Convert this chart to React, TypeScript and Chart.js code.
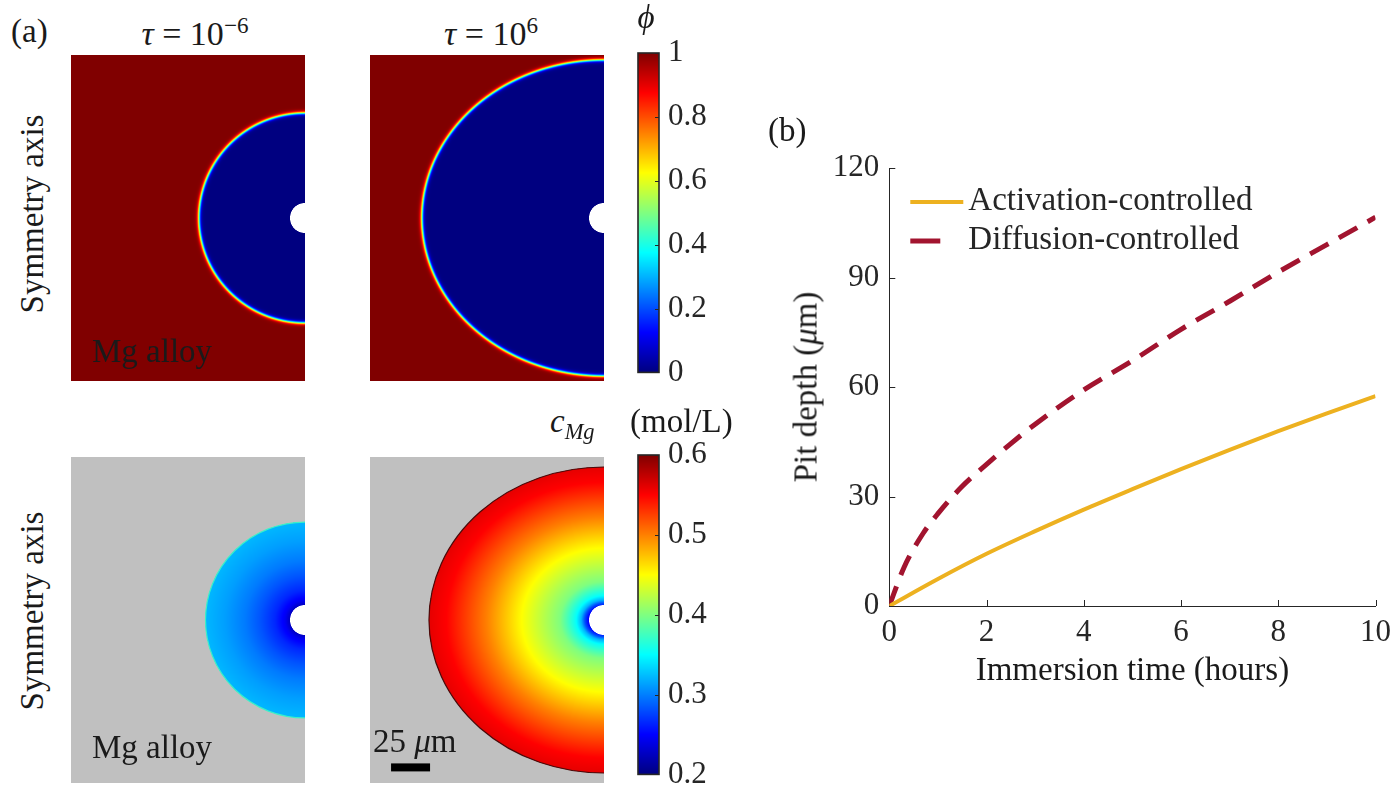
import React, { useEffect, useRef } from 'react';
import { Chart, registerables } from 'chart.js';

Chart.register(...registerables);

// ---------------- Panel (b) data ----------------
const seriesLabels = ['Activation-controlled', 'Diffusion-controlled'];
const timeActivation = [0, 1, 2, 3, 4, 5, 6, 7, 8, 9, 10];
const depthActivation = [0, 7.4, 14.3, 20.5, 26.4, 32.0, 37.5, 42.8, 47.9, 52.8, 57.5];
const timeDiffusion = [0, 0.3, 0.7, 1, 1.5, 2, 2.5, 3, 4, 5, 6, 7, 8, 9, 10];
const depthDiffusion = [0, 10.5, 20, 25.3, 32.8, 38.8, 44.5, 49.8, 59.2, 67.2, 75.8, 83.5, 91.5, 99, 106.5];
const timeTicks = [0, 2, 4, 6, 8, 10];
const depthTicks = [0, 30, 60, 90, 120];

// ---------------- Panel (a) data (micrometres) ----------------
const domainR = [-150, 0];
const domainZ = [-104.5, 104.5];
const holeRadius = 9.6;
const pitAxesPhiEarly = [68, 67.3];
const pitAxesPhiLate = [116.7, 101.3];
const pitAxesConcEarly = [63.8, 62.8];
const pitAxesConcLate = [112.2, 98.1];
const interfaceWidth = 1.3;
const phiTicks = [0, 0.2, 0.4, 0.6, 0.8, 1];
const concTicks = [0.2, 0.3, 0.4, 0.5, 0.6];
const concEarlyS = [0.15, 0.2, 0.3, 0.45, 0.6, 0.8, 1.0];
const concEarlyC = [0.225, 0.245, 0.265, 0.283, 0.298, 0.312, 0.322];
const concLateS = [0.086, 0.11, 0.13, 0.16, 0.25, 0.36, 0.47, 0.67, 0.9, 1.0];
const concLateC = [0.245, 0.28, 0.32, 0.352, 0.4, 0.425, 0.45, 0.5, 0.55, 0.56];
const scaleBarLength = 25;

const FONT = '"Liberation Serif", "Times New Roman", serif';
const AXIS_COLOR = '#262626';
const TEXT_COLOR = '#1a1a1a';

type RGB = [number, number, number];
const WHITE: RGB = [255, 255, 255];
const GRAY: RGB = [192, 192, 192];

function clamp01(v: number) {
  return v < 0 ? 0 : v > 1 ? 1 : v;
}
function jet(v: number): RGB {
  v = clamp01(v);
  return [
    255 * clamp01(1.5 - Math.abs(4 * v - 3)),
    255 * clamp01(1.5 - Math.abs(4 * v - 2)),
    255 * clamp01(1.5 - Math.abs(4 * v - 1)),
  ];
}
function interp(xs: number[], ys: number[], v: number) {
  if (v <= xs[0]) return ys[0];
  for (let i = 1; i < xs.length; i++) {
    if (v <= xs[i]) {
      const t = (v - xs[i - 1]) / (xs[i] - xs[i - 1]);
      return ys[i - 1] + t * (ys[i] - ys[i - 1]);
    }
  }
  return ys[ys.length - 1];
}

type Shader = (r: number, z: number) => RGB;

function phiShader(axes: number[]): Shader {
  const [a, b] = axes;
  return (r, z) => {
    if (Math.hypot(r, z) < holeRadius) return WHITE;
    const s = Math.sqrt((r / a) ** 2 + (z / b) ** 2);
    const g = Math.sqrt((r / (a * a)) ** 2 + (z / (b * b)) ** 2) / Math.max(s, 1e-9);
    const d = (s - 1) / g;
    const phi = 0.5 * (1 + Math.tanh(d / interfaceWidth));
    return jet(phi);
  };
}
function concShader(axes: number[], sArr: number[], cArr: number[]): Shader {
  const [a, b] = axes;
  const lo = concTicks[0];
  const hi = concTicks[concTicks.length - 1];
  return (r, z) => {
    if (Math.hypot(r, z) < holeRadius) return WHITE;
    const s = Math.sqrt((r / a) ** 2 + (z / b) ** 2);
    if (s > 1) return GRAY;
    return jet((interp(sArr, cArr, s) - lo) / (hi - lo));
  };
}

function fieldPlugin(shader: Shader, extras?: { outline?: string; axes?: number[]; scaleBar?: boolean }) {
  return {
    id: 'fieldImage',
    beforeDatasetsDraw(chart: any) {
      const { ctx, chartArea: ca, scales } = chart;
      const xs = scales.x;
      const ys = scales.y;
      const w = Math.round(ca.right - ca.left);
      const h = Math.round(ca.bottom - ca.top);
      const img = ctx.createImageData(w, h);
      const offs = [0.25, 0.75];
      for (let j = 0; j < h; j++) {
        const zv = offs.map((o) => ys.getValueForPixel(ca.top + j + o));
        for (let i = 0; i < w; i++) {
          let R = 0, G = 0, B = 0;
          for (const ox of offs) {
            const rv = xs.getValueForPixel(ca.left + i + ox);
            for (const zz of zv) {
              const c = shader(rv, zz);
              R += c[0]; G += c[1]; B += c[2];
            }
          }
          const k = (j * w + i) * 4;
          img.data[k] = R / 4;
          img.data[k + 1] = G / 4;
          img.data[k + 2] = B / 4;
          img.data[k + 3] = 255;
        }
      }
      ctx.putImageData(img, ca.left, ca.top);
      if (extras && extras.outline && extras.axes) {
        const cx = xs.getPixelForValue(0);
        const cy = ys.getPixelForValue(0);
        const rx = cx - xs.getPixelForValue(-extras.axes[0]);
        const ry = ys.getPixelForValue(-extras.axes[1]) - cy;
        ctx.save();
        ctx.beginPath();
        ctx.rect(ca.left, ca.top, w, h);
        ctx.clip();
        ctx.strokeStyle = extras.outline;
        ctx.lineWidth = 1.2;
        ctx.beginPath();
        ctx.ellipse(cx, cy, rx, ry, 0, Math.PI / 2, (3 * Math.PI) / 2);
        ctx.stroke();
        ctx.restore();
      }
      if (extras && extras.scaleBar) {
        const start = -136.5;
        const zc = -94.5;
        const x0 = xs.getPixelForValue(start);
        const x1 = xs.getPixelForValue(start + scaleBarLength);
        const yc = ys.getPixelForValue(zc);
        ctx.fillStyle = '#000';
        ctx.fillRect(x0, yc - 4, x1 - x0, 8);
      }
    },
  };
}

function fieldConfig(plugin: any): any {
  return {
    type: 'scatter',
    data: { datasets: [] },
    options: {
      responsive: false,
      animation: false,
      devicePixelRatio: 1,
      layout: { padding: 0 },
      plugins: { legend: { display: false }, tooltip: { enabled: false } },
      scales: {
        x: { type: 'linear', display: false, min: domainR[0], max: domainR[1] },
        y: { type: 'linear', display: false, min: domainZ[0], max: domainZ[1] },
      },
    },
    plugins: [plugin],
  };
}

function colorbarConfig(ticks: number[], padTop: number, padBottom: number): any {
  const min = ticks[0];
  const max = ticks[ticks.length - 1];
  return {
    type: 'scatter',
    data: { datasets: [] },
    options: {
      responsive: false,
      animation: false,
      devicePixelRatio: 1,
      layout: { padding: { left: 13, top: padTop, right: 0, bottom: padBottom } },
      plugins: { legend: { display: false }, tooltip: { enabled: false } },
      scales: {
        x: { type: 'linear', display: false, min: 0, max: 1 },
        y: {
          type: 'linear',
          position: 'right',
          min,
          max,
          afterBuildTicks: (s: any) => {
            s.ticks = ticks.map((v) => ({ value: v }));
          },
          afterFit: (s: any) => {
            s.width = 96;
          },
          grid: { display: false, drawTicks: false },
          border: { display: false },
          ticks: {
            padding: 9,
            color: AXIS_COLOR,
            font: { family: FONT, size: 31 },
            callback: (v: any) => String(+Number(v).toFixed(2)),
          },
        },
      },
    },
    plugins: [
      {
        id: 'colorbar',
        beforeDatasetsDraw(chart: any) {
          const { ctx, chartArea: ca, scales } = chart;
          const y = scales.y;
          for (let py = Math.floor(ca.top); py < Math.ceil(ca.bottom); py++) {
            const v = y.getValueForPixel(py + 0.5);
            const c = jet((v - min) / (max - min));
            ctx.fillStyle = `rgb(${c[0]},${c[1]},${c[2]})`;
            ctx.fillRect(ca.left, py, ca.right - ca.left, 1);
          }
          ctx.save();
          ctx.strokeStyle = AXIS_COLOR;
          ctx.lineWidth = 1;
          y.ticks.forEach((t: any) => {
            const py = Math.round(y.getPixelForValue(t.value)) + 0.5;
            ctx.beginPath();
            ctx.moveTo(ca.right, py);
            ctx.lineTo(ca.right - 4, py);
            ctx.stroke();
          });
          ctx.lineWidth = 1.6;
          ctx.strokeRect(ca.left, ca.top, ca.right - ca.left, ca.bottom - ca.top);
          ctx.restore();
        },
      },
    ],
  };
}

const inwardTicks = {
  id: 'inwardTicks',
  beforeDatasetsDraw(chart: any) {
    const { ctx, chartArea: ca, scales } = chart;
    ctx.save();
    ctx.strokeStyle = AXIS_COLOR;
    ctx.lineWidth = 1;
    scales.x.ticks.forEach((t: any) => {
      const px = Math.round(scales.x.getPixelForValue(t.value)) + 0.5;
      ctx.beginPath();
      ctx.moveTo(px, ca.bottom);
      ctx.lineTo(px, ca.bottom - 6);
      ctx.stroke();
    });
    scales.y.ticks.forEach((t: any) => {
      const py = Math.round(scales.y.getPixelForValue(t.value)) + 0.5;
      ctx.beginPath();
      ctx.moveTo(ca.left, py);
      ctx.lineTo(ca.left + 6, py);
      ctx.stroke();
    });
    ctx.restore();
  },
};

const matlabLegend = {
  id: 'matlabLegend',
  afterDatasetsDraw(chart: any) {
    const { ctx, chartArea: ca } = chart;
    const x0 = ca.left + 21;
    chart.data.datasets.forEach((ds: any, i: number) => {
      const yLine = ca.top + 34 + i * 39;
      ctx.save();
      ctx.strokeStyle = ds.borderColor;
      ctx.lineWidth = ds.borderWidth;
      ctx.setLineDash(ds.borderDash ? [30, 23] : []);
      ctx.beginPath();
      ctx.moveTo(x0, yLine);
      ctx.lineTo(x0 + 53, yLine);
      ctx.stroke();
      ctx.restore();
      ctx.save();
      ctx.font = `33px ${FONT}`;
      ctx.fillStyle = AXIS_COLOR;
      ctx.textBaseline = 'alphabetic';
      ctx.textAlign = 'left';
      ctx.fillText(ds.label, x0 + 58, yLine + 8);
      ctx.restore();
    });
  },
};

function lineConfig(): any {
  return {
    type: 'line',
    data: {
      datasets: [
        {
          label: seriesLabels[0],
          data: timeActivation.map((t, i) => ({ x: t, y: depthActivation[i] })),
          borderColor: '#EDB120',
          borderWidth: 4,
          pointRadius: 0,
          fill: false,
          cubicInterpolationMode: 'monotone',
        },
        {
          label: seriesLabels[1],
          data: timeDiffusion.map((t, i) => ({ x: t, y: depthDiffusion[i] })),
          borderColor: '#A2142F',
          borderWidth: 5,
          borderDash: [21, 12],
          pointRadius: 0,
          fill: false,
          cubicInterpolationMode: 'monotone',
        },
      ],
    },
    options: {
      responsive: false,
      animation: false,
      devicePixelRatio: 1,
      layout: { padding: { left: 0, top: 68, right: 21, bottom: 0 } },
      plugins: { legend: { display: false }, tooltip: { enabled: false } },
      scales: {
        x: {
          type: 'linear',
          min: 0,
          max: 10,
          afterBuildTicks: (s: any) => {
            s.ticks = timeTicks.map((v) => ({ value: v }));
          },
          afterFit: (s: any) => {
            s.height = 188;
          },
          grid: { display: false, drawTicks: false },
          border: { display: true, color: AXIS_COLOR, width: 1 },
          ticks: { color: AXIS_COLOR, font: { family: FONT, size: 31 }, padding: 8, maxRotation: 0, autoSkip: false },
          title: {
            display: true,
            text: 'Immersion time (hours)',
            color: TEXT_COLOR,
            font: { family: FONT, size: 33 },
            padding: { top: 0, bottom: 103 },
          },
        },
        y: {
          type: 'linear',
          min: 0,
          max: 120,
          afterBuildTicks: (s: any) => {
            s.ticks = depthTicks.map((v) => ({ value: v }));
          },
          afterFit: (s: any) => {
            s.width = 149.3;
          },
          grid: { display: false, drawTicks: false },
          border: { display: true, color: AXIS_COLOR, width: 1 },
          ticks: { color: AXIS_COLOR, font: { family: FONT, size: 31 }, padding: 10, autoSkip: false },
        },
      },
    },
    plugins: [inwardTicks, matlabLegend],
  };
}

function ChartBox(props: { left: number; top: number; width: number; height: number; make: () => any }) {
  const ref = useRef<HTMLCanvasElement>(null);
  useEffect(() => {
    const chart = new Chart(ref.current as HTMLCanvasElement, props.make());
    return () => chart.destroy();
  }, []);
  return (
    <canvas
      ref={ref}
      width={props.width}
      height={props.height}
      style={{ position: 'absolute', left: props.left, top: props.top, width: props.width, height: props.height }}
    />
  );
}

function Label(props: { x: number; baseline: number; size?: number; center?: boolean; children: any }) {
  const size = props.size || 33;
  return (
    <div
      style={{
        position: 'absolute',
        left: props.x,
        top: props.baseline - 0.8375 * size,
        fontSize: size,
        lineHeight: `${size}px`,
        whiteSpace: 'nowrap',
        color: TEXT_COLOR,
        transform: props.center ? 'translateX(-50%)' : undefined,
      }}
    >
      {props.children}
    </div>
  );
}

function VLabel(props: { cx: number; cy: number; size?: number; children: any }) {
  const size = props.size || 33;
  return (
    <div
      style={{
        position: 'absolute',
        left: props.cx,
        top: props.cy,
        fontSize: size,
        lineHeight: `${size}px`,
        whiteSpace: 'nowrap',
        color: TEXT_COLOR,
        transform: 'translate(-50%, -50%) rotate(-90deg)',
      }}
    >
      {props.children}
    </div>
  );
}

const sup: React.CSSProperties = { fontSize: '0.68em', position: 'relative', top: '-0.5em' };
const sub: React.CSSProperties = { fontSize: '0.68em', position: 'relative', top: '0.28em' };

export default function App() {
  return (
    <div
      style={{
        position: 'absolute',
        left: 0,
        top: 0,
        width: 1399,
        height: 794,
        overflow: 'hidden',
        background: '#ffffff',
        fontFamily: FONT,
      }}
    >
      <ChartBox left={71} top={55} width={234} height={326} make={() => fieldConfig(fieldPlugin(phiShader(pitAxesPhiEarly)))} />
      <ChartBox left={370} top={55} width={234} height={326} make={() => fieldConfig(fieldPlugin(phiShader(pitAxesPhiLate)))} />
      <ChartBox
        left={71}
        top={457}
        width={234}
        height={326}
        make={() =>
          fieldConfig(
            fieldPlugin(concShader(pitAxesConcEarly, concEarlyS, concEarlyC), { outline: '#3cf0c8', axes: pitAxesConcEarly })
          )
        }
      />
      <ChartBox
        left={370}
        top={457}
        width={234}
        height={326}
        make={() =>
          fieldConfig(
            fieldPlugin(concShader(pitAxesConcLate, concLateS, concLateC), {
              outline: '#4a0a0a',
              axes: pitAxesConcLate,
              scaleBar: true,
            })
          )
        }
      />
      <ChartBox left={625} top={0} width={130} height={400} make={() => colorbarConfig(phiTicks, 53, 19)} />
      <ChartBox left={625} top={420} width={130} height={382} make={() => colorbarConfig(concTicks, 35, 19)} />
      <ChartBox left={740} top={100} width={659} height={694} make={lineConfig} />

      <Label x={11} baseline={43}>(a)</Label>
      <Label x={195} baseline={45} size={34} center>
        <i>τ</i> = 10<span style={sup}>−6</span>
      </Label>
      <Label x={491} baseline={45} size={34} center>
        <i>τ</i> = 10<span style={sup}>6</span>
      </Label>
      <Label x={646} baseline={29} center>
        <i>ϕ</i>
      </Label>
      <Label x={550} baseline={433}>
        <i>c</i>
        <span style={sub}>
          <i>Mg</i>
        </span>
      </Label>
      <Label x={630} baseline={433}>(mol/L)</Label>
      <VLabel cx={32} cy={214}>Symmetry axis</VLabel>
      <VLabel cx={32} cy={611}>Symmetry axis</VLabel>
      <Label x={92} baseline={363}>Mg alloy</Label>
      <Label x={92} baseline={759}>Mg alloy</Label>
      <Label x={373} baseline={753}>
        25 <i>μ</i>m
      </Label>
      <Label x={768} baseline={142}>(b)</Label>
      <VLabel cx={806} cy={387}>
        Pit depth (<i>μ</i>m)
      </VLabel>
    </div>
  );
}
